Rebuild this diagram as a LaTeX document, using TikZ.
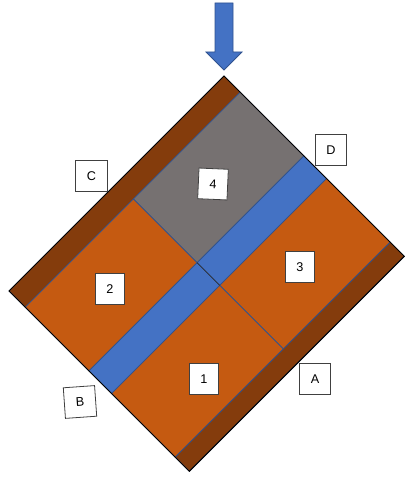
\documentclass[tikz,border=0pt]{standalone}
\usepackage{fontspec}
\setmainfont{Liberation Sans}
\definecolor{woodbrown}{RGB}{132,60,12}
\definecolor{cellorange}{RGB}{197,90,17}
\definecolor{cellgrey}{RGB}{118,113,113}
\definecolor{stripblue}{RGB}{68,114,196}
\definecolor{edgeblue}{RGB}{47,82,143}
\usetikzlibrary{positioning}

\begin{document}
\begin{tikzpicture}[x=0.75pt, y=0.75pt,
  part/.style={draw=edgeblue, line width=0.5pt},
  tagbox/.style={draw=black!75, fill=white, line width=0.6pt, minimum width=23.5pt, minimum height=23pt, inner sep=0pt, font=\fontsize{9.5}{11}\selectfont},
  numbox/.style={tagbox, minimum width=22pt}
]
  \useasboundingbox (0,0) rectangle (405,477);
  % load arrow
  \draw[edgeblue, fill=stripblue, line width=0.6pt] (215,474) -- (233,474) -- (233,425) -- (242,425) -- (224,407) -- (206,425) -- (215,425) -- cycle;
  % tilted panel, u along the short side, v along the long side
  \begin{scope}[shift={(224,401)}, rotate=-45]
    \filldraw[part, fill=woodbrown] (0,0) rectangle (23,-304);
    \filldraw[part, fill=cellgrey] (23,0) rectangle (113,-151);
    \filldraw[part, fill=cellorange] (23,-151) rectangle (113,-304);
    \filldraw[part, fill=stripblue] (113,0) rectangle (145,-304);
    \filldraw[part, fill=cellorange] (145,0) rectangle (235,-151);
    \filldraw[part, fill=cellorange] (145,-151) rectangle (235,-304);
    \filldraw[part, fill=woodbrown] (235,0) rectangle (255,-304);
    \draw[black!85, line width=0.5pt] (113,-151) -- (145,-151);
    \draw[black, line width=0.7pt] (0,0) rectangle (255,-304);
  \end{scope}
  % labels
  \node[tagbox] (tagC) at (91.5,301) {C};
  \node[tagbox] (tagD) at (331,327) {D};
  \node[tagbox] (tagA) at (315,98) {A};
  \node[tagbox, rotate=4] (tagB) at (80,75) {B};
  \node[numbox, rotate=-2.5] (num4) at (213,293) {4};
  \node[numbox] (num3) at (300,210) {3};
  \node[numbox] (num2) at (110,188) {2};
  \node[numbox] (num1) at (204,98) {1};
\end{tikzpicture}
\end{document}
